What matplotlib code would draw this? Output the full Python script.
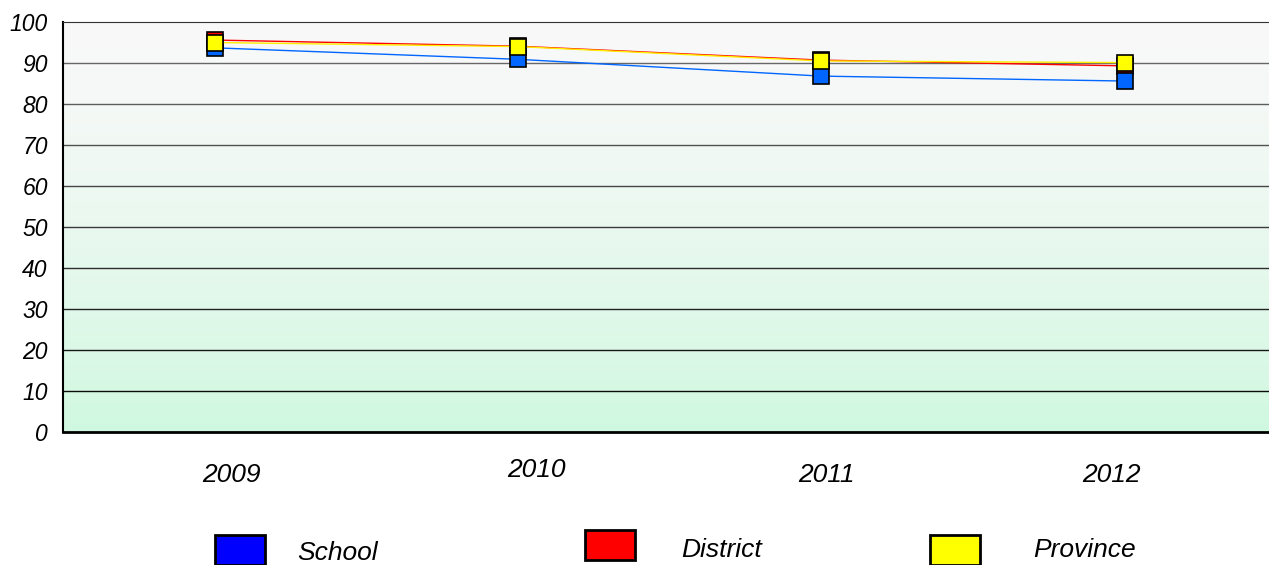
import numpy as np
import matplotlib.pyplot as plt
from matplotlib.patches import Rectangle
from matplotlib.transforms import ScaledTranslation

years = ["2009", "2010", "2011", "2012"]
school = [93.7, 90.9, 86.8, 85.6]
district = [95.6, 94.1, 90.7, 89.3]
province = [95.0, 94.0, 90.5, 90.1]
yticks = [0, 10, 20, 30, 40, 50, 60, 70, 80, 90, 100]
series_names = ["School", "District", "Province"]
legend_colors = ['#0000ff', '#ff0000', '#ffff00']

plt.rcParams['font.family'] = ['Liberation Sans', 'DejaVu Sans']

W, H = 1269, 565
fig = plt.figure(figsize=(W / 100, H / 100), dpi=100)
ax = fig.add_axes([63 / W, 1 - 432 / H, 1 - 63 / W, 410 / H])

# background gradient, light grey at top to pale green at bottom
grad = np.linspace(0, 1, 256).reshape(-1, 1) ** 1.4
top = np.array([0.976, 0.976, 0.976])
bot = np.array([0.816, 0.973, 0.878])
img = top + (bot - top) * grad[:, :, None]
ax.imshow(img, extent=[-0.5, 3.476, 0, 100], origin='upper', aspect='auto', zorder=0)

x = np.arange(len(years))
for yv in yticks[1:-1]:
    c = 0.45 * yv / 100.0
    ax.axhline(yv, color=(c, c, c), lw=1, zorder=1)

ax.plot(x, district, color='#ff0000', lw=1, marker='s', ms=11.5,
        mfc='#ff0000', mec='black', mew=1.2, zorder=3)
ax.plot(x, school, color='#0066ff', lw=1, marker='s', ms=11.5,
        mfc='#0066ff', mec='black', mew=1.2, zorder=4)
ax.plot(x, province, color='#ffee00', lw=1, marker='s', ms=11.5,
        mfc='#ffff00', mec='black', mew=1.2, zorder=5)

ax.set_xlim(-0.5, 3.476)
ax.set_ylim(0, 100)
ax.set_yticks(yticks)
ax.set_yticklabels([str(v) for v in yticks], fontsize=16.5, style='italic')
ax.set_xticks(x)
ax.set_xticklabels(years, fontsize=19, style='italic')
ax.tick_params(axis='both', length=0)
ax.tick_params(axis='x', pad=22)
ax.tick_params(axis='y', pad=11)

# year labels sit a little off their points in the original
shift_px = [17, 18, 5, -13]
labs = ax.get_xticklabels()
for lab, dx in zip(labs, shift_px):
    lab.set_transform(lab.get_transform() + ScaledTranslation(dx / 100, 0, fig.dpi_scale_trans))
labs[1].set_y(0.012)

ax.spines['right'].set_visible(False)
ax.spines['top'].set_color('#333333')
ax.spines['left'].set_linewidth(1.5)
ax.spines['bottom'].set_linewidth(2)

# legend: coloured boxes with labels along the bottom
box_x = [215, 585, 930]
box_y = [535, 530, 535]
text_x = [297, 681, 1033]
text_y = [553, 550, 550]
for i, name in enumerate(series_names):
    fig.patches.append(Rectangle((box_x[i] / W, 1 - (box_y[i] + 30) / H),
                                 50 / W, 30 / H, transform=fig.transFigure,
                                 facecolor=legend_colors[i], edgecolor='black',
                                 lw=2))
    fig.text(text_x[i] / W, 1 - text_y[i] / H, name, fontsize=19,
             style='italic', ha='left', va='center')

fig.savefig('out.png', dpi=100)
